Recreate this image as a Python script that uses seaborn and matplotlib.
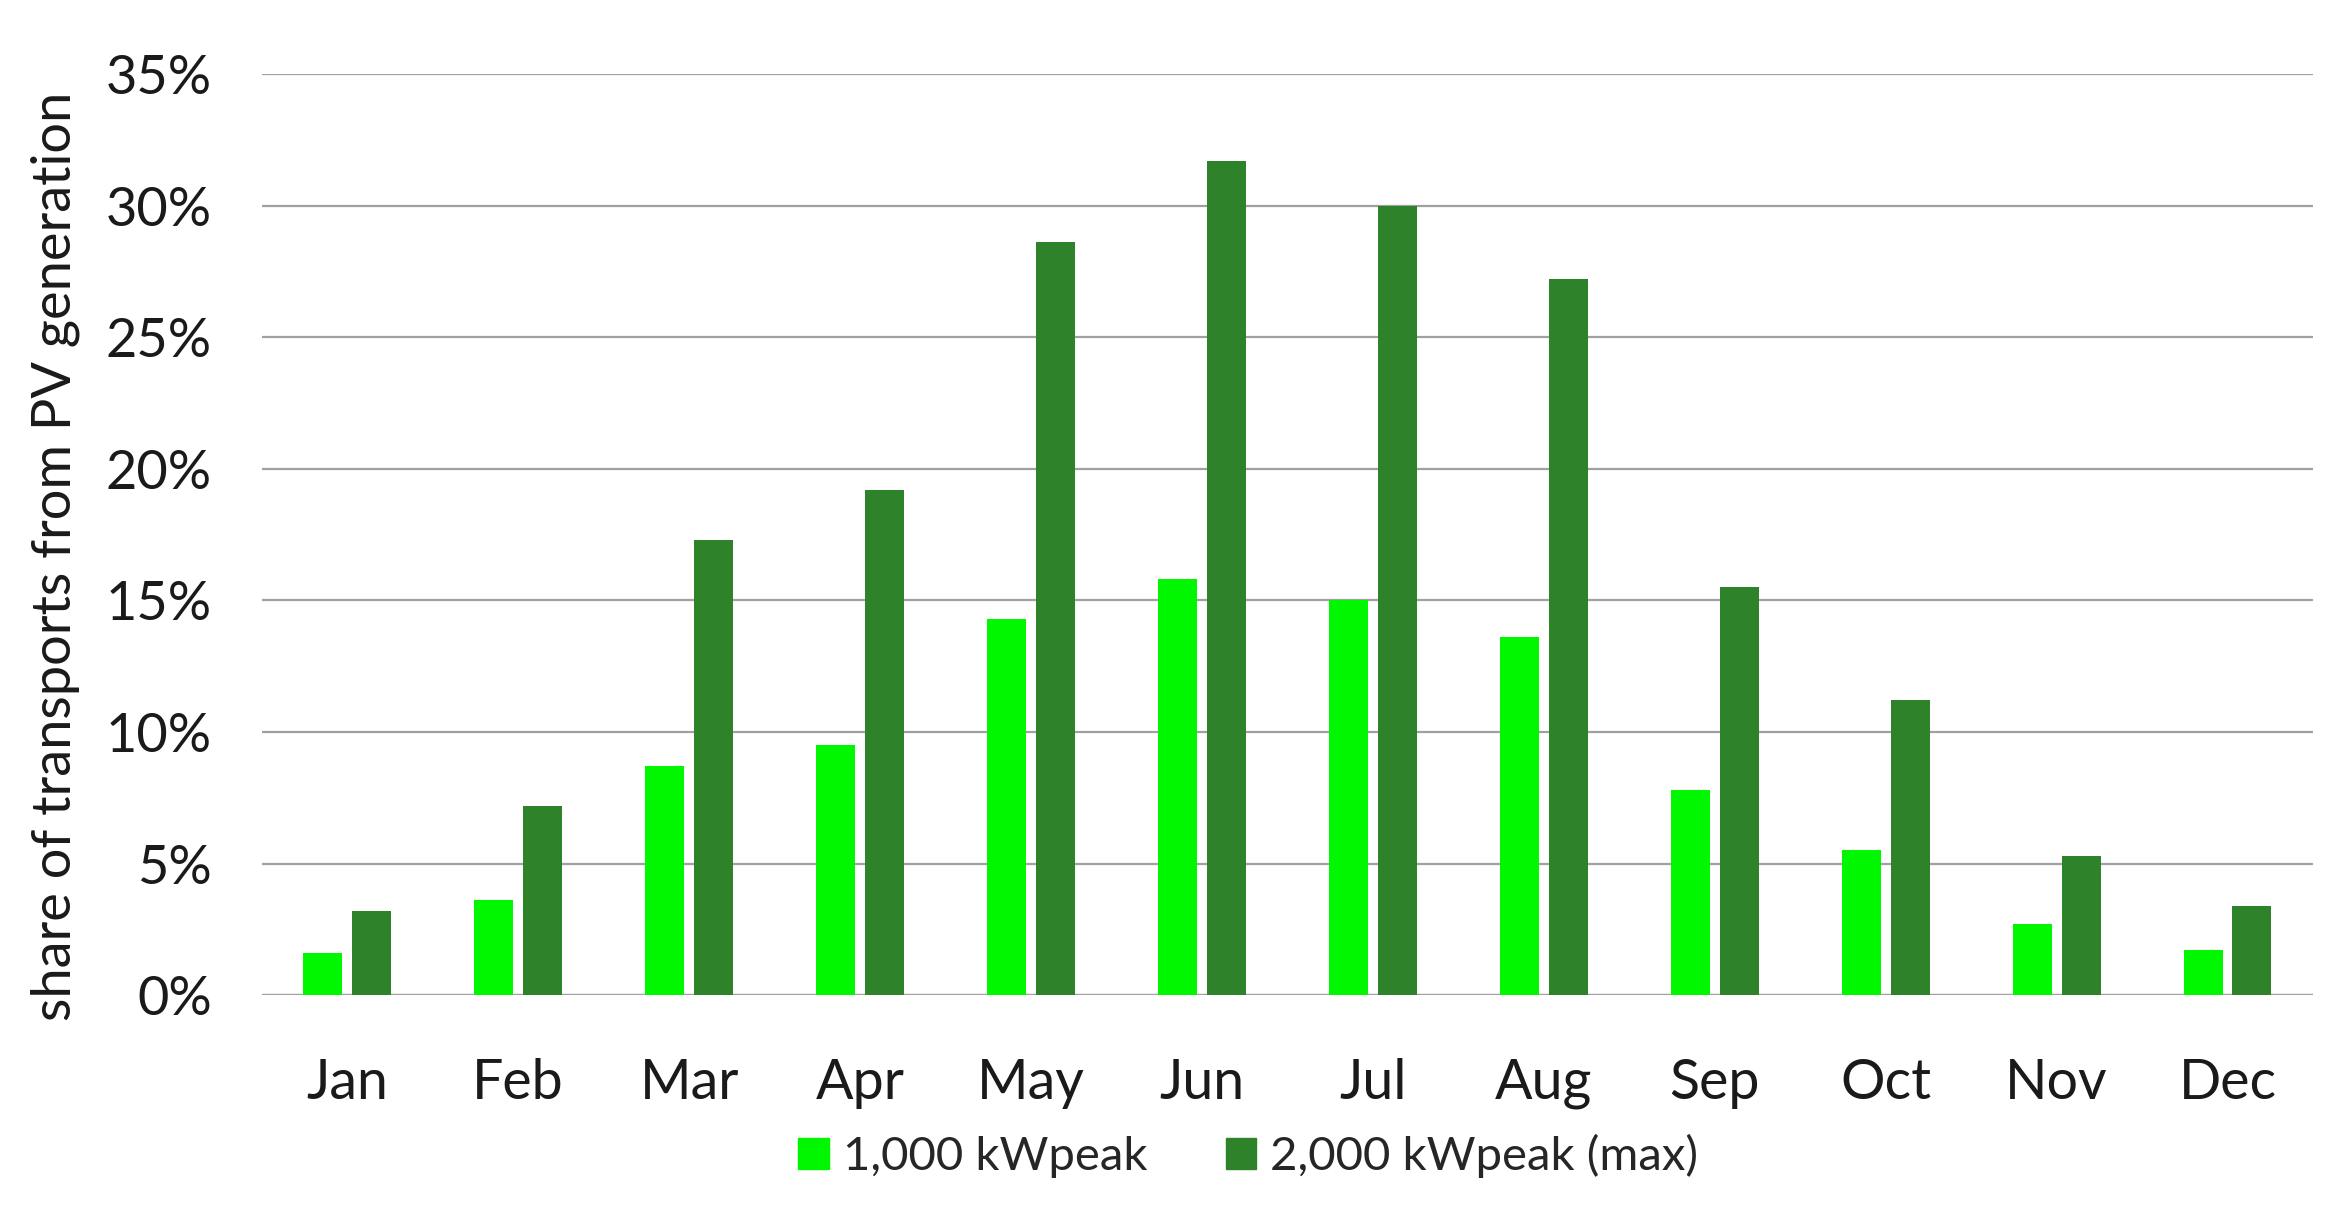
import pandas as pd
import matplotlib.pyplot as plt
import seaborn as sns
from matplotlib.ticker import PercentFormatter
from matplotlib.patches import Patch

# monthly share of transports covered by PV generation
months = ['Jan', 'Feb', 'Mar', 'Apr', 'May', 'Jun',
          'Jul', 'Aug', 'Sep', 'Oct', 'Nov', 'Dec']
pv_1000 = [1.6, 3.6, 8.7, 9.5, 14.3, 15.8, 15.0, 13.6, 7.8, 5.5, 2.7, 1.7]
pv_2000 = [3.2, 7.2, 17.3, 19.2, 28.6, 31.7, 30.0, 27.2, 15.5, 11.2, 5.3, 3.4]
series_names = ['1,000 kWpeak', '2,000 kWpeak (max)']
colors = ['#00F700', '#2E8229']


def build_frame():
    rows = []
    for name, vals in zip(series_names, [pv_1000, pv_2000]):
        for m, v in zip(months, vals):
            rows.append({'month': m, 'share': v / 100, 'series': name})
    return pd.DataFrame(rows)


def main():
    df = build_frame()
    sns.set_theme(style='white')
    plt.rcParams['font.family'] = ['Lato', 'DejaVu Sans']

    fig = plt.figure(figsize=(23.44, 12.21), dpi=100)
    ax = fig.add_axes([0.1117, 0.185, 0.8751, 0.7544])

    sns.barplot(data=df, x='month', y='share', hue='series',
                palette=colors, width=0.57, gap=0.2, order=months,
                hue_order=series_names, ax=ax, legend=False,
                saturation=1, linewidth=0)

    ax.set_ylim(0, 0.35)
    ax.set_xlim(-0.5, 11.5)
    ax.set_yticks([i * 0.05 for i in range(8)])
    ax.yaxis.set_major_formatter(PercentFormatter(1.0, decimals=0))
    ax.grid(axis='y', color='#A0A0A0', linewidth=1.6)
    ax.set_axisbelow(True)
    for s in ax.spines.values():
        s.set_visible(False)
    ax.axhline(0, color='#D9D9D9', linewidth=2.5, zorder=0.5)

    ax.tick_params(axis='y', labelsize=39, pad=36, length=0, colors='#1a1a1a')
    ax.tick_params(axis='x', labelsize=40, pad=45, length=0, colors='#1a1a1a')
    ax.set_xlabel('')
    ax.set_ylabel('')
    fig.text(0.0235, 0.5446, 'share of transports from PV generation',
             rotation=90, ha='center', va='center', fontsize=39, color='#1a1a1a')

    handles = [Patch(color=c, label=n) for c, n in zip(colors, series_names)]
    fig.legend(handles=handles, loc='center', bbox_to_anchor=(0.5326, 0.0532),
               ncol=2, frameon=False, fontsize=34, handlelength=0.65,
               handleheight=0.65, handletextpad=0.3, columnspacing=1.65)

    fig.savefig('out.png', dpi=100, facecolor='white')
    plt.close(fig)


if __name__ == '__main__':
    main()
